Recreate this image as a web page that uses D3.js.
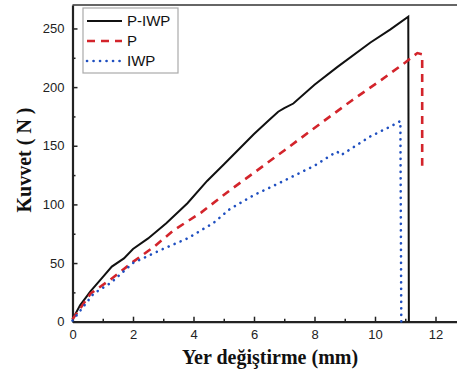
<!DOCTYPE html>
<html>
<head>
<meta charset="utf-8">
<script src="https://cdn.jsdelivr.net/npm/d3@7"></script>
<style>
  body { margin: 0; background: #fff; }
  .tick text { font-family: "Liberation Sans", Arial, sans-serif; font-size: 13px; fill: #222; }
</style>
</head>
<body>
<svg id="chart" width="457" height="376"></svg>
<script>
// series names (legend order)
const seriesNames = ['P-IWP', 'P', 'IWP'];

// displacement (mm) / force (N)
const pIwpX = [0, 0.25, 0.6, 1.0, 1.3, 1.7, 2.0, 2.5, 3.1, 3.8, 4.45, 5.0, 5.5, 6.0, 6.5, 6.8, 7.0, 7.3, 8.0, 8.75, 9.85, 10.5, 11.1, 11.12];
const pIwpY = [2, 14, 26, 38, 47, 54, 62, 71, 84, 101, 120, 134, 147, 160, 172, 179, 182, 186, 202, 217, 238, 249, 260, 0];

const pX = [0, 0.6, 1.26, 2.0, 2.7, 3.35, 4.25, 5.2, 6.0, 7.0, 8.2, 9.2, 10.2, 11.0, 11.4, 11.56, 11.56];
const pY = [2, 24, 36, 51, 64, 78, 93, 112, 127, 146, 169, 188, 206, 221, 229, 228, 133];

const iwpX = [0, 0.7, 1.26, 2.0, 2.9, 3.8, 4.65, 5.2, 6.0, 6.9, 8.0, 8.55, 8.75, 8.88, 9.85, 10.4, 10.84, 10.87];
const iwpY = [1, 24, 33, 50, 61, 71, 84, 96, 108, 119, 133, 142, 145, 142, 158, 165, 171, 0];

const xTicks = [0, 2, 4, 6, 8, 10, 12];
const yTicks = [0, 50, 100, 150, 200, 250];

const svg = d3.select('#chart');
const x = d3.scaleLinear().domain([0, 12.8]).range([72.5, 459.7]);
const y = d3.scaleLinear().domain([0, 270]).range([321.7, 5]);

svg.append('rect').attr('width', 457).attr('height', 376).attr('fill', '#fff');

// top frame line
svg.append('line')
  .attr('x1', x(0)).attr('x2', 457)
  .attr('y1', y(270)).attr('y2', y(270))
  .attr('stroke', '#666').attr('stroke-width', 2);

// minor ticks
svg.append('g')
  .attr('transform', 'translate(0,' + y(0) + ')')
  .call(d3.axisBottom(x).tickValues(d3.range(1, 13, 2)).tickSize(-3).tickFormat(''))
  .call(g => g.select('.domain').remove())
  .selectAll('line').attr('stroke', '#222').attr('stroke-width', 1.5);
svg.append('g')
  .attr('transform', 'translate(' + x(0) + ',0)')
  .call(d3.axisLeft(y).tickValues(d3.range(25, 270, 50)).tickSize(-3).tickFormat(''))
  .call(g => g.select('.domain').remove())
  .selectAll('line').attr('stroke', '#222').attr('stroke-width', 1.5);

// major axes
const xAxis = svg.append('g')
  .attr('transform', 'translate(0,' + y(0) + ')')
  .call(d3.axisBottom(x).tickValues(xTicks).tickSize(-5).tickPadding(8).tickSizeOuter(0));
const yAxis = svg.append('g')
  .attr('transform', 'translate(' + x(0) + ',0)')
  .call(d3.axisLeft(y).tickValues(yTicks).tickSize(-5).tickPadding(8).tickSizeOuter(0));
[xAxis, yAxis].forEach(a => {
  a.select('.domain').attr('stroke', '#222').attr('stroke-width', 2.2);
  a.selectAll('.tick line').attr('stroke', '#222').attr('stroke-width', 1.5);
});

// curves
const line = d3.line().x(d => x(d[0])).y(d => y(d[1])).curve(d3.curveLinear);
const styles = [
  { color: '#111', width: 2, dash: null, cap: 'butt' },
  { color: '#d3242b', width: 2.6, dash: '8,6', cap: 'butt' },
  { color: '#1f4fc0', width: 2.6, dash: '0.1,6.4', cap: 'round' }
];
const series = [
  d3.zip(pIwpX, pIwpY),
  d3.zip(pX, pY),
  d3.zip(iwpX, iwpY)
];
series.forEach((pts, i) => {
  svg.append('path')
    .attr('d', line(pts))
    .attr('fill', 'none')
    .attr('stroke', styles[i].color)
    .attr('stroke-width', styles[i].width)
    .attr('stroke-dasharray', styles[i].dash)
    .attr('stroke-linecap', styles[i].cap)
    .attr('stroke-linejoin', 'miter');
});

// legend
const lg = svg.append('g').attr('transform', 'translate(83,8)');
lg.append('rect')
  .attr('width', 95).attr('height', 65)
  .attr('fill', '#fff').attr('stroke', '#aaa').attr('stroke-width', 1.2);
seriesNames.forEach((name, i) => {
  const cy = 13 + i * 20;
  lg.append('line')
    .attr('x1', 4).attr('x2', 39).attr('y1', cy).attr('y2', cy)
    .attr('stroke', styles[i].color)
    .attr('stroke-width', styles[i].width)
    .attr('stroke-dasharray', styles[i].dash)
    .attr('stroke-linecap', styles[i].cap);
  lg.append('text')
    .attr('x', 44).attr('y', cy + 5)
    .attr('font-family', '"Liberation Sans", Arial, sans-serif')
    .attr('font-size', 15)
    .attr('fill', '#111')
    .text(name);
});

// axis titles
svg.append('text')
  .attr('x', 270).attr('y', 364)
  .attr('text-anchor', 'middle')
  .attr('font-family', '"Liberation Serif", "Times New Roman", serif')
  .attr('font-weight', 'bold')
  .attr('font-size', 20)
  .attr('fill', '#111')
  .text('Yer değiştirme (mm)');
svg.append('text')
  .attr('transform', 'translate(31,160) rotate(-90)')
  .attr('text-anchor', 'middle')
  .attr('font-family', '"Liberation Serif", "Times New Roman", serif')
  .attr('font-weight', 'bold')
  .attr('font-size', 20)
  .attr('fill', '#111')
  .text('Kuvvet ( N )');
</script>
</body>
</html>
